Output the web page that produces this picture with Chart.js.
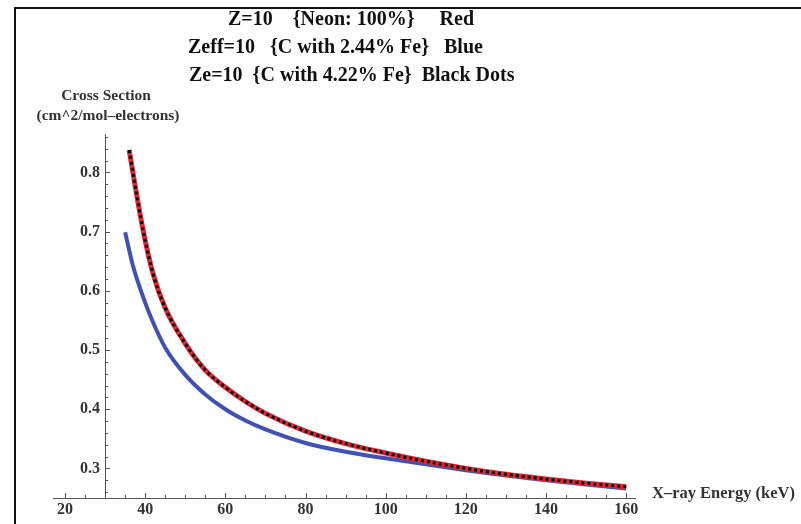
<!DOCTYPE html>
<html lang="en">
<head>
<meta charset="UTF-8">
<title>Cross Section vs X-ray Energy</title>
<style>
  html, body { margin:0; padding:0; background:#fff; overflow:hidden; }
  #wrap { position:relative; width:801px; height:524px; }
  canvas#chart { position:absolute; left:0; top:0; }
  #frame { position:absolute; left:14px; top:7px; right:0; bottom:0;
           border-left:2px solid #111; border-top:2px solid #111; pointer-events:none; }
</style>
</head>
<body>
<div id="wrap">
  <canvas id="chart" width="801" height="524"></canvas>
  <div id="frame"></div>
</div>

<script src="https://cdn.jsdelivr.net/npm/chart.js"></script>
<script>
// values (keV, cm^2/mol-electrons)
const energyNeon = [36, 38, 40, 42, 45, 50, 55, 60, 65, 70, 80, 90, 100, 110, 120, 130, 140, 150, 160];
const crossNeon  = [0.838, 0.757, 0.685, 0.628, 0.571, 0.511, 0.466, 0.437, 0.413, 0.393, 0.363, 0.342, 0.326, 0.312, 0.300, 0.290, 0.282, 0.275, 0.269];

const energyFe244 = [35, 37, 40, 42, 45, 50, 55, 60, 65, 70, 80, 90, 100, 110, 120, 130, 140, 150, 160];
const crossFe244  = [0.699, 0.641, 0.580, 0.546, 0.504, 0.458, 0.425, 0.400, 0.381, 0.366, 0.343, 0.328, 0.317, 0.307, 0.297, 0.288, 0.280, 0.273, 0.266];

const energyFe422 = [36, 38, 40, 42, 45, 50, 55, 60, 65, 70, 80, 90, 100, 110, 120, 130, 140, 150, 160];
const crossFe422  = [0.838, 0.757, 0.685, 0.628, 0.571, 0.511, 0.466, 0.437, 0.413, 0.393, 0.363, 0.342, 0.326, 0.312, 0.300, 0.290, 0.282, 0.275, 0.269];

const titleLines = [
  'Z=10    {Neon: 100%}     Red',
  'Zeff=10   {C with 2.44% Fe}   Blue',
  'Ze=10  {C with 4.22% Fe}  Black Dots'
];
const yTitleLines = ['Cross Section', '(cm^2/mol\u2013electrons)'];
const xTitle = 'X\u2013ray Energy (keV)';

const pts = (xs, ys) => xs.map((x, i) => ({x: x, y: ys[i]}));
const serif = '"Liberation Serif", "Times New Roman", serif';
const isMajorX = v => Math.abs(v / 20 - Math.round(v / 20)) < 1e-6;
const isMajorY = v => Math.abs(v * 10 - Math.round(v * 10)) < 1e-6;

// Mathematica-style inward tick marks, tick labels and the text round the plot
const decor = {
  id: 'decor',
  afterDraw(chart) {
    const {ctx, scales: {x, y}} = chart;
    const ax = x.getPixelForValue(30);    // vertical axis location
    const ay = y.getPixelForValue(0.25);  // horizontal axis location
    ctx.save();
    ctx.strokeStyle = '#555';
    ctx.lineWidth = 1;
    ctx.beginPath();
    x.ticks.forEach(t => {
      const px = Math.round(x.getPixelForValue(t.value)) + 0.5;
      ctx.moveTo(px, ay); ctx.lineTo(px, ay - (isMajorX(t.value) ? 5 : 3));
    });
    y.ticks.forEach(t => {
      const py = Math.round(y.getPixelForValue(t.value)) + 0.5;
      ctx.moveTo(ax, py); ctx.lineTo(ax + (isMajorY(t.value) ? 5 : 3), py);
    });
    ctx.stroke();

    ctx.fillStyle = '#333';
    ctx.textBaseline = 'middle';
    ctx.font = 'bold 16px ' + serif;
    ctx.textAlign = 'center';
    x.ticks.forEach(t => {
      if (isMajorX(t.value)) ctx.fillText(String(Math.round(t.value)), x.getPixelForValue(t.value), ay + 12);
    });
    ctx.textAlign = 'right';
    y.ticks.forEach(t => {
      if (isMajorY(t.value)) ctx.fillText(t.value.toFixed(1), ax - 5, y.getPixelForValue(t.value));
    });

    ctx.fillStyle = '#111';
    ctx.textAlign = 'left';
    ctx.font = 'bold 20px ' + serif;
    ctx.fillText(titleLines[0], 228, 20);
    ctx.fillText(titleLines[1], 188, 48);
    ctx.fillText(titleLines[2], 189, 76);

    ctx.fillStyle = '#333';
    ctx.textAlign = 'center';
    ctx.font = 'bold 15.5px ' + serif;
    ctx.fillText(yTitleLines[0], 106, 96);
    ctx.fillText(yTitleLines[1], 108, 116);

    ctx.textAlign = 'left';
    ctx.font = 'bold 16.5px ' + serif;
    ctx.fillText(xTitle, 652, 494);
    ctx.restore();
  }
};

new Chart(document.getElementById('chart'), {
  type: 'line',
  data: {
    datasets: [
      { label: 'C with 4.22% Fe', data: pts(energyFe422, crossFe422), borderColor: '#000',
        borderWidth: 3, borderDash: [3, 3], pointRadius: 0, cubicInterpolationMode: 'monotone' },
      { label: 'Neon 100%', data: pts(energyNeon, crossNeon), borderColor: '#e3262f',
        borderWidth: 5, pointRadius: 0, cubicInterpolationMode: 'monotone' },
      { label: 'C with 2.44% Fe', data: pts(energyFe244, crossFe244), borderColor: '#3f51b5',
        borderWidth: 4, pointRadius: 0, cubicInterpolationMode: 'monotone' }
    ]
  },
  options: {
    responsive: false,
    animation: false,
    layout: { padding: { left: 53, right: 166, top: 134, bottom: 26 } },
    plugins: { legend: { display: false }, tooltip: { enabled: false } },
    scales: {
      x: {
        type: 'linear', position: { y: 0.25 }, min: 17, max: 162.2,
        grid: { display: false },
        border: { display: true, color: '#555', width: 1 },
        ticks: { display: false, stepSize: 5, includeBounds: false, autoSkip: false }
      },
      y: {
        type: 'linear', position: { x: 30 }, min: 0.25, max: 0.865,
        grid: { display: false },
        border: { display: true, color: '#555', width: 1 },
        ticks: { display: false, stepSize: 0.02, includeBounds: false, autoSkip: false }
      }
    }
  },
  plugins: [decor]
});
</script>
</body>
</html>
